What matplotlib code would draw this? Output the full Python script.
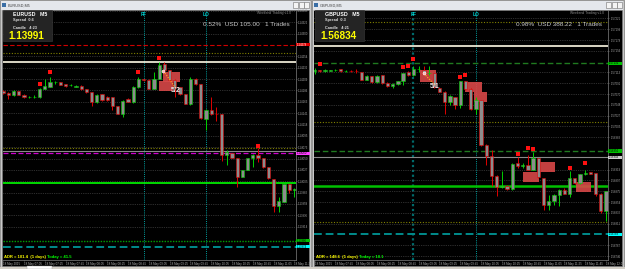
import numpy as np
import pandas as pd
import matplotlib.pyplot as plt
from matplotlib.patches import Rectangle
from matplotlib.transforms import blended_transform_factory

plt.rcParams['font.family'] = ['Liberation Sans', 'DejaVu Sans']

# ---------------- EURUSD M5 (left window) ----------------
eu_open = [1.14185, 1.14181, 1.14176, 1.14184, 1.14177, 1.14172, 1.14172, 1.14172, 1.14190, 1.14194,
           1.14202, 1.14202, 1.14198, 1.14196, 1.14194, 1.14195, 1.14189, 1.14183, 1.14162, 1.14178,
           1.14173, 1.14172, 1.14155, 1.14140, 1.14168, 1.14162, 1.14192, 1.14208, 1.14206, 1.14190,
           1.14210, 1.14238, 1.14226, 1.14207, 1.14192, 1.14178, 1.14159, 1.14210, 1.14199, 1.14130,
           1.14147, 1.14139, 1.14139, 1.14057, 1.14061, 1.14051, 1.14014, 1.14027, 1.14051, 1.14057,
           1.14051, 1.14033, 1.14009, 1.13955, 1.13964, 1.13999, 1.13986]
eu_high = [1.14187, 1.14183, 1.14187, 1.14185, 1.14178, 1.14175, 1.14176, 1.14191, 1.14209, 1.14213,
           1.14205, 1.14203, 1.14199, 1.14198, 1.14197, 1.14196, 1.14190, 1.14184, 1.14179, 1.14179,
           1.14175, 1.14173, 1.14156, 1.14167, 1.14171, 1.14195, 1.14213, 1.14209, 1.14208, 1.14223,
           1.14243, 1.14243, 1.14227, 1.14209, 1.14193, 1.14179, 1.14213, 1.14211, 1.14200, 1.14148,
           1.14174, 1.14153, 1.14140, 1.14067, 1.14062, 1.14052, 1.14028, 1.14052, 1.14059, 1.14070,
           1.14052, 1.14034, 1.14010, 1.13972, 1.13999, 1.14000, 1.13992]
eu_low = [1.14179, 1.14169, 1.14175, 1.14176, 1.14171, 1.14171, 1.14171, 1.14171, 1.14189, 1.14193,
          1.14200, 1.14196, 1.14194, 1.14195, 1.14193, 1.14187, 1.14181, 1.14155, 1.14161, 1.14166,
          1.14165, 1.14147, 1.14139, 1.14133, 1.14163, 1.14161, 1.14191, 1.14205, 1.14189, 1.14189,
          1.14209, 1.14221, 1.14205, 1.14172, 1.14176, 1.14158, 1.14157, 1.14197, 1.14129, 1.14107,
          1.14137, 1.14124, 1.14045, 1.14037, 1.14050, 1.13993, 1.14013, 1.14026, 1.14034, 1.14043,
          1.14032, 1.14010, 1.13944, 1.13942, 1.13963, 1.13981, 1.13974]
eu_close = [1.14181, 1.14177, 1.14185, 1.14177, 1.14172, 1.14173, 1.14173, 1.14189, 1.14195, 1.14202,
            1.14203, 1.14197, 1.14195, 1.14197, 1.14195, 1.14188, 1.14182, 1.14162, 1.14177, 1.14167,
            1.14167, 1.14154, 1.14140, 1.14166, 1.14164, 1.14192, 1.14208, 1.14206, 1.14190, 1.14210,
            1.14236, 1.14226, 1.14207, 1.14192, 1.14178, 1.14160, 1.14210, 1.14199, 1.14131, 1.14147,
            1.14139, 1.14138, 1.14057, 1.14062, 1.14051, 1.14014, 1.14027, 1.14051, 1.14057, 1.14051,
            1.14033, 1.14011, 1.13955, 1.13964, 1.13999, 1.13986, 1.13990]
eu_start = '2015-05-18 06:45'
eu_mark_idx = [7, 9, 26, 30, 49]
eu_mark_price = [1.14200, 1.14223, 1.14222, 1.14251, 1.14076]
eu_box_x = [(30.8, 33.9), (30.0, 32.7)]
eu_box_y = [(1.14204, 1.14222), (1.14185, 1.14204)]
eu_trade_x = [30.8, 33.2]
eu_trade_y = [1.14225, 1.14190]
eu_levels = [1.14278, 1.14260, 1.14244, 1.14072, 1.14065, 1.14060, 1.14002, 1.13886, 1.13874]
eu_ff, eu_lo = 27, 39

# ---------------- GBPUSD M5 (right window) ----------------
gu_open = [1.57115, 1.57117, 1.57116, 1.57116, 1.57117, 1.57119, 1.57115, 1.57116, 1.57116, 1.57113,
           1.57098, 1.57105, 1.57093, 1.57107, 1.57092, 1.57086, 1.57090, 1.57095, 1.57113, 1.57107,
           1.57119, 1.57118, 1.57111, 1.57111, 1.57082, 1.57074, 1.57053, 1.57063, 1.57047, 1.57095,
           1.57080, 1.57039, 1.57057, 1.56968, 1.56946, 1.56906, 1.56884, 1.56886, 1.56879, 1.56931,
           1.56925, 1.56928, 1.56918, 1.56941, 1.56901, 1.56847, 1.56856, 1.56868, 1.56878, 1.56870,
           1.56901, 1.56891, 1.56910, 1.56913, 1.56911, 1.56870, 1.56835]
gu_high = [1.57121, 1.57118, 1.57119, 1.57118, 1.57120, 1.57120, 1.57118, 1.57117, 1.57119, 1.57114,
           1.57107, 1.57106, 1.57107, 1.57108, 1.57093, 1.57091, 1.57096, 1.57112, 1.57115, 1.57125,
           1.57126, 1.57125, 1.57125, 1.57112, 1.57083, 1.57075, 1.57068, 1.57064, 1.57096, 1.57096,
           1.57081, 1.57064, 1.57058, 1.56969, 1.56957, 1.56907, 1.56915, 1.56887, 1.56931, 1.56943,
           1.56933, 1.56948, 1.56953, 1.56942, 1.56902, 1.56868, 1.56869, 1.56879, 1.56882, 1.56915,
           1.56902, 1.56910, 1.56918, 1.56914, 1.56912, 1.56871, 1.56876]
gu_low = [1.57109, 1.57114, 1.57114, 1.57115, 1.57116, 1.57114, 1.57114, 1.57113, 1.57111, 1.57097,
          1.57097, 1.57092, 1.57092, 1.57090, 1.57083, 1.57081, 1.57089, 1.57088, 1.57105, 1.57106,
          1.57114, 1.57108, 1.57108, 1.57082, 1.57073, 1.57030, 1.57048, 1.57040, 1.57041, 1.57079,
          1.57038, 1.57029, 1.56967, 1.56928, 1.56886, 1.56865, 1.56882, 1.56878, 1.56878, 1.56921,
          1.56922, 1.56917, 1.56917, 1.56902, 1.56838, 1.56838, 1.56848, 1.56846, 1.56869, 1.56864,
          1.56890, 1.56890, 1.56908, 1.56909, 1.56866, 1.56832, 1.56815]
gu_close = [1.57117, 1.57116, 1.57117, 1.57117, 1.57118, 1.57115, 1.57116, 1.57115, 1.57115, 1.57098,
            1.57106, 1.57093, 1.57106, 1.57091, 1.57085, 1.57090, 1.57095, 1.57111, 1.57107, 1.57119,
            1.57120, 1.57110, 1.57112, 1.57083, 1.57074, 1.57053, 1.57065, 1.57047, 1.57095, 1.57080,
            1.57039, 1.57057, 1.56968, 1.56946, 1.56906, 1.56883, 1.56886, 1.56879, 1.56930, 1.56926,
            1.56927, 1.56918, 1.56941, 1.56903, 1.56847, 1.56856, 1.56868, 1.56878, 1.56870, 1.56901,
            1.56891, 1.56909, 1.56912, 1.56910, 1.56870, 1.56835, 1.56875]
gu_start = '2015-05-18 07:25'
gu_mark_idx = [1, 17, 18, 19, 28, 29, 39, 41, 42, 49, 52]
gu_mark_price = [1.57130, 1.57124, 1.57126, 1.57140, 1.57103, 1.57107, 1.56950, 1.56961, 1.56959, 1.56921, 1.56933]
gu_box_x = [(20.25, 23.3), (29.0, 32.1), (30.6, 33.1), (40.1, 43.1), (43.3, 46.2), (50.25, 53.1)]
gu_box_y = [(1.57093, 1.57118), (1.57073, 1.57093), (1.57053, 1.57073),
            (1.56893, 1.56913), (1.56913, 1.56933), (1.56873, 1.56893)]
gu_trade_x = [21.0, 23.1]
gu_trade_y = [1.57111, 1.57088]
gu_levels = [1.57213, 1.57165, 1.57131, 1.57013, 1.56956, 1.56943, 1.56885, 1.56814, 1.56789]
gu_ff, gu_lo = 19, 31

W, H = 625, 269
OLIVE = (0, (1, 1.5))
DASH = (0, (4, 2))

eu_style = [('#d00000', DASH, 0.8), ('#808000', OLIVE, 0.8), ('#fffbe6', '-', 1.2),
            ('#808000', OLIVE, 0.8), ('#8a8a8a', '-', 0.8), ('#d000d0', DASH, 0.9),
            ('#00ff00', '-', 1.2), ('#00a000', (0, (1, 1)), 1.0), ('#008b8b', DASH, 1.4)]
eu_tags = {0: '#e00000', 5: '#ff40ff', 7: '#00c000', 8: '#00ffff'}
gu_style = [('#808000', OLIVE, 0.8), ('#fffbe6', '-', 1.2), ('#1f7a1f', DASH, 1.0),
            ('#808000', OLIVE, 0.8), ('#1f7a1f', DASH, 1.0), ('#8a8a8a', '-', 0.8),
            ('#00c000', '-', 1.8), ('#808000', OLIVE, 0.8), ('#008b8b', DASH, 1.4)]
gu_tags = {2: '#00c000', 4: '#00c000', 5: '#d0d0d0', 8: '#00ffff'}


def frect(x0, y0, x1, y1, **kw):
    r = Rectangle((x0 / W, 1 - y1 / H), (x1 - x0) / W, (y1 - y0) / H,
                  transform=fig.transFigure, **kw)
    fig.add_artist(r)


def ftext(x, y, s, **kw):
    fig.text(x / W, 1 - y / H, s, **kw)


fig = plt.figure(figsize=(6.25, 2.69), dpi=100, facecolor='#d4d0c8')


def window(x0, x1, title):
    frect(x0, 0, x1, 267, fc='#c8c8c8', ec='#8c8c8c', lw=0.6, zorder=-3)
    frect(x0 + 1, 1, x1 - 1, 9.5, fc='#e4e7ec', ec='none', zorder=-2)
    frect(x0 + 2, 2.5, x0 + 6, 7, fc='#3a6ea5', ec='none', zorder=-2)
    ftext(x0 + 8, 5.5, title, fontsize=2.8, color='#404040', va='center')
    for k in range(3):
        bx = x1 - 18 + k * 5.6
        frect(bx, 2, bx + 5, 8, fc='#f4f4f4', ec='#707070', lw=0.4, zorder=-2)
    frect(x0 + 2, 10, x1 - 2, 266, fc='black', ec='#808080', lw=0.4, zorder=-2)


def draw_panel(ax, o, h, l, c, start, ylim, tick0, tick_step, tag_prices):
    o, h, l, c = (np.asarray(v) for v in (o, h, l, c))
    n = len(o)
    x = np.arange(n)
    col = np.where(c >= o, '#00d000', '#e00000')
    ax.vlines(x, l, h, colors=col, lw=0.7, zorder=4)
    ax.bar(x, np.maximum(np.abs(c - o), 4e-6), 0.62, bottom=np.minimum(o, c),
           color='#8c8c8c', edgecolor=col, linewidth=0.4, zorder=5)

    ax.set_facecolor('black')
    ax.set_ylim(*ylim)
    ticks = np.arange(tick0, ylim[0], -tick_step)
    # price labels hidden behind the coloured tags are left out, as in MT4
    ticks = [t for t in ticks if min(abs(t - p) for p in tag_prices) > 0.00009]
    ax.set_yticks(ticks)
    ax.set_yticklabels([f'{t:.5f}' for t in ticks])
    ax.yaxis.tick_right()
    ax.tick_params(axis='y', labelsize=2, colors='#808080', labelcolor='#a8a8a8',
                   length=1, width=0.4, pad=0.8)
    ax.grid(axis='y', color='#5a5a5a', linestyle=(0, (1, 1.6)), lw=0.5, zorder=0)

    times = pd.date_range(start, periods=n, freq='5min')
    xt = np.arange(0, n, 4)
    ax.set_xticks(xt)
    ax.set_xticklabels(['18 May 2015' if i == 0 else times[i].strftime('18 May %H:%M') for i in xt])
    ax.tick_params(axis='x', labelsize=2.2, colors='#808080', labelcolor='#a8a8a8',
                   length=1, width=0.4, pad=0.6)
    for lbl in ax.get_xticklabels():
        lbl.set_ha('left')
    for s in ('left', 'top'):
        ax.spines[s].set_visible(False)
    for s in ('right', 'bottom'):
        ax.spines[s].set_color('#808080')
        ax.spines[s].set_linewidth(0.5)


def draw_levels(ax, levels, styles, tags, axw):
    trans = blended_transform_factory(ax.transAxes, ax.transData)
    for k, (p, (color, ls, lw)) in enumerate(zip(levels, styles)):
        ax.axhline(p, color=color, linestyle=ls, lw=lw, zorder=2)
        if k in tags:
            ax.add_patch(Rectangle((1.0, p - 0.000034), 14.5 / axw, 0.000068, transform=trans,
                                   fc=tags[k], ec='none', clip_on=False, zorder=6))
            ax.text(1.0 + 1.2 / axw, p, f'{p:.5f}', transform=trans, fontsize=2,
                    color='black' if tags[k] != '#e00000' else 'white', va='center', zorder=7)


def draw_trades(ax, bx, by, tx, ty, label):
    for (x0, x1), (y0, y1) in zip(bx, by):
        ax.add_patch(Rectangle((x0, y0), x1 - x0, y1 - y0, fc='#d84848', ec='none',
                               alpha=0.9, zorder=3))
    ax.plot(tx, ty, color='#ffa020', linestyle=(0, (1, 1)), lw=0.9, zorder=6)
    ax.plot(tx[0], ty[0], 'o', ms=2.2, mfc='#ffb0b0', mec='white', mew=0.4, zorder=7)
    ax.text(tx[1] - 0.1, ty[1] - 0.00003, label, fontsize=5, color='#e8e8e8',
            fontweight='bold', ha='center', va='center', zorder=8)


def draw_sessions(ax, ff, lo, ff_style):
    trans = blended_transform_factory(ax.transData, ax.transAxes)
    ax.axvline(ff, color=ff_style[0], linestyle=(0, (1, 1.2)), lw=ff_style[1], zorder=1)
    ax.axvline(lo, color='#00a0a0', linestyle=(0, (1, 1.2)), lw=0.7, zorder=1)
    for xx, s in ((ff, 'FF'), (lo, 'LO')):
        ax.text(xx, 0.985, s, transform=trans, fontsize=3.4, color='#00d0d0',
                fontweight='bold', ha='center', va='center', zorder=8)


# windows
window(0, 311, 'EURUSD,M5')
window(312, 624, 'GBPUSD,M5')
frect(0, 266.5, 625, 269, fc='#d4d0c8', ec='none', zorder=-1)
frect(27, 266, 52, 269, fc='white', ec='#a0a0a0', lw=0.3, zorder=-1)

# left chart
ax1 = fig.add_axes([2.5 / W, 1 - 260 / H, 293 / W, 249.5 / H])
draw_panel(ax1, eu_open, eu_high, eu_low, eu_close, eu_start, (1.13847, 1.14346), 1.14345, 0.000227,
           [eu_levels[k] for k in eu_tags])
ax1.set_xlim(-0.15, 56.2)
draw_levels(ax1, eu_levels, eu_style, eu_tags, 293)
draw_trades(ax1, eu_box_x, eu_box_y, eu_trade_x, eu_trade_y, '5/2')
ax1.plot(eu_mark_idx, eu_mark_price, 's', color='#ff1010', ms=2.2, mew=0, zorder=6)
draw_sessions(ax1, eu_ff, eu_lo, ('#00a0a0', 0.7))

# right chart
ax2 = fig.add_axes([314 / W, 1 - 260 / H, 294 / W, 249.5 / H])
draw_panel(ax2, gu_open, gu_high, gu_low, gu_close, gu_start, (1.56738, 1.57237), 1.57221, 0.000216,
           [gu_levels[k] for k in gu_tags])
ax2.set_xlim(-0.13, 56.4)
draw_levels(ax2, gu_levels, gu_style, gu_tags, 294)
draw_trades(ax2, gu_box_x, gu_box_y, gu_trade_x, gu_trade_y, '5/1')
ax2.plot(gu_mark_idx, gu_mark_price, 's', color='#ff1010', ms=2.2, mew=0, zorder=6)
draw_sessions(ax2, gu_ff, gu_lo, ('#006a6a', 1.6))

# info boxes and chart texts
for x0, sym, spread, candle, price in ((0, 'EURUSD   M5', 'Spread  0.6', 'Candle   4:23', '1.13991'),
                                       (312, 'GBPUSD   M5', 'Spread  0.3', 'Candle   4:21', '1.56834')):
    frect(x0 + 3, 10.5, x0 + 51.5, 40.5, fc='#242424', ec='#3c3c3c', lw=0.4, zorder=5)
    ftext(x0 + 13, 15, sym, fontsize=3.8, color='white', fontweight='bold', va='center', zorder=6)
    ftext(x0 + 13, 19.8, spread, fontsize=2.8, color='#e0e0e0', fontweight='bold', va='center', zorder=6)
    ftext(x0 + 13, 28, candle, fontsize=2.8, color='#e0e0e0', fontweight='bold', va='center', zorder=6)
    ftext(x0 + 8.5, 36.3, price, fontsize=7.2, color='#ffff00', fontweight='bold', va='center', zorder=6)

ftext(291, 13, 'Weekend Trading v1.0', fontsize=2.4, color='#8c8c8c', ha='right', va='center')
ftext(290, 24.5, '0.52%  USD 105.00   1 Trades', fontsize=4.6, color='#c8c8c8', ha='right', va='center')
ftext(604, 13, 'Weekend Trading v1.0', fontsize=2.4, color='#8c8c8c', ha='right', va='center')
ftext(602, 25, '0.98%  USD 388.22   1 Trades', fontsize=4.6, color='#c8c8c8', ha='right', va='center')

ftext(4, 257.3, 'ADR = 101.4  (1 days)', fontsize=3, color='#ffff00', fontweight='bold', va='center')
ftext(47, 257.3, 'Today = 41.5', fontsize=3, color='#00ff00', fontweight='bold', va='center')
ftext(316, 257.3, 'ADR = 148.6  (1 days)', fontsize=3, color='#ffff00', fontweight='bold', va='center')
ftext(359, 257.3, 'Today = 18.1', fontsize=3, color='#00ff00', fontweight='bold', va='center')

fig.savefig('out.png', dpi=100, facecolor=fig.get_facecolor())
